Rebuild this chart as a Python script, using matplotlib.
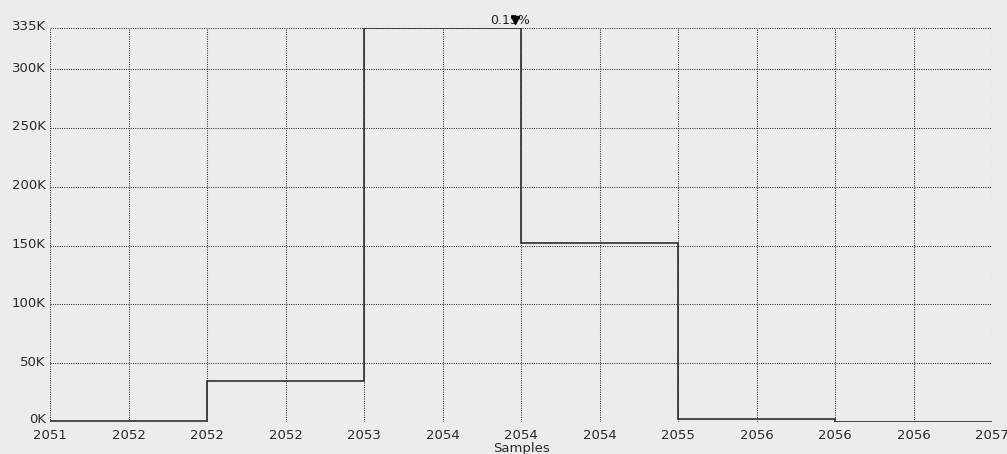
import matplotlib
matplotlib.use("Agg")
import matplotlib.pyplot as plt
import matplotlib.transforms as mtransforms

# ---- data ----
bin_edges = [2051, 2052, 2053, 2054, 2055, 2056, 2057]
counts = [900, 35000, 335000, 152000, 2900, 0]
x_ticks = [2051, 2051.5, 2052, 2052.5, 2053, 2053.5, 2054, 2054.5, 2055, 2055.5, 2056, 2056.5, 2057]
x_tick_labels = ["2051", "2052", "2052", "2052", "2053", "2054", "2054", "2054", "2055", "2056", "2056", "2056", "2057"]
y_ticks = [0, 50000, 100000, 150000, 200000, 250000, 300000, 335000]
y_tick_labels = ["0K", "50K", "100K", "150K", "200K", "250K", "300K", "335K"]
marker_x = 2054
marker_label = "0.15%"

bg = "#efebea"
W, H = 1007, 454
fig = plt.figure(figsize=(W / 100, H / 100), dpi=100, facecolor=bg)
ax = fig.add_axes([50 / W, 1 - 422 / H, (992 - 50) / W, (422 - 28) / H], facecolor=bg)

ax.stairs(counts, bin_edges, baseline=None, color="#2e2e2e", lw=1.2, zorder=3)

ax.set_xlim(bin_edges[0], bin_edges[-1])
ax.set_ylim(y_ticks[0], y_ticks[-1])
ax.set_xticks(x_ticks)
ax.set_xticklabels(x_tick_labels)
ax.set_yticks(y_ticks)
ax.set_yticklabels(y_tick_labels)
ax.tick_params(axis="both", length=0, labelsize=9.5, colors="#2a2a2a")
ax.tick_params(axis="x", pad=5)
ax.tick_params(axis="y", pad=3)
ax.grid(True, color="#333333", linestyle=(0, (1, 1.2)), lw=0.75, zorder=1)
for s in ax.spines.values():
    s.set_visible(False)

# nudge y tick labels slightly upward, as in the reference
up = mtransforms.ScaledTranslation(0, 2.5 / 100, fig.dpi_scale_trans)
for i, lbl in enumerate(ax.get_yticklabels()):
    extra = mtransforms.ScaledTranslation(0, 1.5 / 100, fig.dpi_scale_trans) if i == 0 else mtransforms.ScaledTranslation(0, 0, fig.dpi_scale_trans)
    lbl.set_transform(lbl.get_transform() + up + extra)

ax.set_xlabel("Samples", fontsize=9.5, color="#2a2a2a", labelpad=0)

# label and marker above the peak
tr_text = mtransforms.offset_copy(ax.transData, fig=fig, x=-11, y=8, units="dots")
ax.text(marker_x, y_ticks[-1], marker_label, transform=tr_text, ha="center", va="center",
        fontsize=9, color="#222222", clip_on=False)
tr_mark = mtransforms.offset_copy(ax.transData, fig=fig, x=-6, y=8, units="dots")
ax.plot([marker_x], [y_ticks[-1]], marker="v", ms=6, color="black", transform=tr_mark,
        clip_on=False, zorder=5)

fig.savefig("out.png", dpi=100, facecolor=bg)
